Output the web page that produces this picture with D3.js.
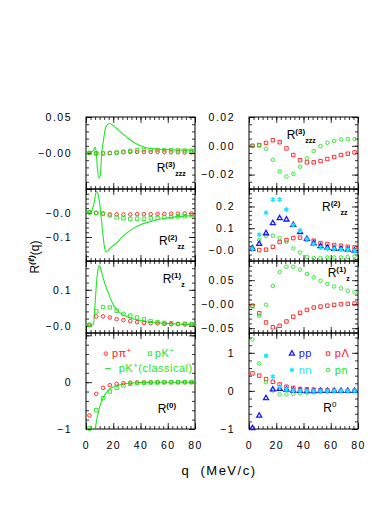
<!DOCTYPE html>
<html>
<head>
<meta charset="utf-8">
<script src="https://cdn.jsdelivr.net/npm/d3@7"></script>
<style>
body { margin: 0; background: #fff; }
text { font-family: "Liberation Sans", Arial, sans-serif; }
</style>
</head>
<body>
<svg id="chart"></svg>
<script>
var W = 390, H = 505;
var RED = "#ff1a1a", GREEN = "#22e622", BLUE = "#1a1aff", CYAN = "#19e6ff";

// q values of the computed points (MeV/c)
var qPts = [2.5, 7.5, 12.5, 17.5, 22.5, 27.5, 32.5, 37.5, 42.5, 47.5, 52.5, 57.5, 62.5, 67.5, 72.5, 77.5];

// left column: p pi+ (circles), p K+ (squares), p K+ classical (line)
var piR3 = [0, -0.0005, -0.0005, 0, 0.0005, 0.001, 0.0015, 0.0015, 0.0015, 0.0015, 0.0015, 0.0012, 0.001, 0.001, 0.0008, 0.0006];
var kR3 = [0, -0.0005, -0.0005, 0, 0.0005, 0.0018, 0.003, 0.0038, 0.0042, 0.0042, 0.0042, 0.004, 0.0038, 0.0036, 0.0034, 0.0032];
var clsR3q = [0, 3, 5.4, 6.6, 7.5, 8.3, 9.5, 10.5, 11.5, 13, 14, 15.5, 17.6, 20, 22.5, 26, 30, 35, 40, 45, 50, 57, 64, 72, 80];
var clsR3v = [0, 0.001, 0.0033, 0.008, 0.002, -0.02, -0.035, -0.03, -0.0014, 0.02, 0.032, 0.039, 0.041, 0.038, 0.034, 0.028, 0.022, 0.015, 0.010, 0.007, 0.0057, 0.0048, 0.0042, 0.004, 0.004];

var piR2 = [0.003, 0, -0.002, -0.006, -0.006, -0.006, -0.006, -0.005, -0.005, -0.005, -0.004, -0.004, -0.003, -0.003, -0.002, -0.002];
var kR2 = [0.003, 0, -0.004, -0.010, -0.018, -0.022, -0.025, -0.024, -0.024, -0.022, -0.021, -0.018, -0.017, -0.014, -0.013, -0.010];
var clsR2q = [0, 3.4, 5.4, 7.8, 9.5, 10.3, 11.3, 12.3, 13.5, 14.7, 16, 18, 20, 22.5, 26, 30, 35, 40, 45, 50, 57, 64, 72, 80];
var clsR2v = [0, 0.004, 0.028, 0.09, 0.06, 0.028, -0.03, -0.083, -0.14, -0.1625, -0.158, -0.145, -0.135, -0.125, -0.103, -0.083, -0.063, -0.049, -0.039, -0.031, -0.023, -0.017, -0.013, -0.011];

var piR1 = [0.002, 0.026, 0.026, 0.023, 0.0185, 0.016, 0.013, 0.010, 0.008, 0.007, 0.0065, 0.0056, 0.0046, 0.0046, 0.0037, 0.0037];
var kR1 = [0.003, 0.04, 0.052, 0.051, 0.042, 0.033, 0.028, 0.023, 0.0185, 0.013, 0.010, 0.008, 0.007, 0.0056, 0.0056, 0.0046];
var clsR1q = [0, 3, 5.4, 6.6, 7.8, 9, 9.8, 11, 12.7, 14.5, 16.4, 19, 22.5, 26, 29.9, 35, 39.6, 45, 49.4, 57, 64, 72, 80];
var clsR1v = [0, 0.002, 0.003, 0.058, 0.123, 0.16, 0.168, 0.155, 0.132, 0.11, 0.091, 0.066, 0.044, 0.033, 0.026, 0.019, 0.015, 0.011, 0.009, 0.007, 0.0056, 0.004, 0.003];

var piR0 = [-0.71, -0.25, -0.12, -0.064, -0.035, -0.02, -0.01, -0.006, -0.004, -0.003, -0.002, -0.002, -0.001, -0.001, -0.001, 0];
var kR0 = [-0.99, -0.6, -0.34, -0.2, -0.12, -0.07, -0.035, -0.02, -0.012, -0.008, -0.005, -0.003, -0.002, -0.001, -0.001, 0];
var clsR0q = [5, 6.6, 8.3, 10.3, 12.7, 15.2, 18.8, 22, 24.9, 28, 32.3, 36, 39.6, 45, 50, 60, 70, 80];
var clsR0v = [-1.1, -1.0, -0.745, -0.5, -0.32, -0.21, -0.12, -0.08, -0.057, -0.035, -0.021, -0.012, -0.007, -0.004, -0.002, -0.001, 0, 0];

// right column: p Lambda (squares), p n (circles), p p (triangles), n n (stars)
var plR3 = [0, 0.0005, 0.002, 0.0039, 0.0025, -0.0018, -0.0064, -0.010, -0.0115, -0.0115, -0.0106, -0.0092, -0.0078, -0.0064, -0.0055, -0.0046];
var pnR3 = [0, 0.0002, -0.0021, -0.0097, -0.0179, -0.0214, -0.0195, -0.0145, -0.0087, -0.0037, -0.0002, 0.0021, 0.0034, 0.0044, 0.0046, 0.0046];

var plR2 = [0.005, 0, 0.002, 0.015, 0.037, 0.046, 0.055, 0.057, 0.049, 0.043, 0.032, 0.028, 0.023, 0.020, 0.015, 0.012];
var pnR2 = [0.008, 0.046, 0.066, 0.066, 0.055, 0.038, 0.008, -0.011, -0.031, -0.037, -0.037, -0.034, -0.034, -0.034, -0.031, -0.028];
var ppR2 = [0.008, 0.028, 0.077, 0.123, 0.146, 0.140, 0.115, 0.082, 0.051, 0.031, 0.018, 0.011, 0.006, 0.005, 0.002, -0.003];
var nnR2 = [0.006, 0.071, 0.171, 0.232, 0.232, 0.186, 0.115, 0.089, 0.051, 0.028, 0.012, 0.005, 0.005, 0.002, 0.002, -0.003];

var plR1 = [-0.003, -0.019, -0.038, -0.048, -0.045, -0.036, -0.026, -0.018, -0.012, -0.007, -0.005, -0.003, -0.0014, 0, 0.0007, 0.0014];
var pnR1 = [-0.005, -0.024, -0.001, 0.038, 0.067, 0.078, 0.078, 0.072, 0.063, 0.056, 0.049, 0.042, 0.037, 0.033, 0.028, 0.025];

var plR0 = [0.46, 0.40, 0.31, 0.24, 0.17, 0.11, 0.08, 0.05, 0.04, 0.03, 0.02, 0.01, 0.005, 0, 0, 0];
var pnR0 = [1.35, 0.72, 0.23, 0.01, -0.09, -0.09, -0.08, -0.06, -0.045, -0.035, -0.025, -0.018, -0.01, -0.008, -0.005, 0];
var ppR0 = [-0.98, -0.65, -0.19, 0.04, 0.05, 0.03, 0.01, 0, -0.005, -0.005, -0.003, -0.002, -0.001, 0, 0, 0];
var nnR0 = [4.0, 2.2, 0.92, 0.375, 0.11, 0.04, 0.01, 0, 0, 0, 0, 0, 0, 0, 0, 0];

// axis tick labels
var xTicks = [0, 20, 40, 60, 80];
var yTickL3 = [0.05, 0], yTextL3 = ["0.05", "\u22120.00"];
var yTickL2 = [0, -0.1], yTextL2 = ["\u22120.0", "\u22120.1"];
var yTickL1 = [0.1, 0], yTextL1 = ["0.1", "\u22120.0"];
var yTickL0 = [0, -1], yTextL0 = ["0", "\u22121"];
var yTickR3 = [0.02, 0, -0.02], yTextR3 = ["0.02", "0.00", "\u22120.02"];
var yTickR2 = [0.2, 0.1, 0], yTextR2 = ["0.2", "0.1", "\u22120.0"];
var yTickR1 = [0.05, 0, -0.05], yTextR1 = ["0.05", "\u22120.00", "\u22120.05"];
var yTickR0 = [1, 0, -1], yTextR0 = ["1", "0", "\u22121"];

var colX = [86, 249], colW = 109;
var rowY = [117, 189, 261, 333], rowH = [72, 72, 72, 96];

var panels = [
  {col: 0, row: 0, domain: [-0.05, 0.05], major: 0.05, minor: 0.01, ticks: yTickL3, texts: yTextL3,
   lab: ["R", "(3)", "zzz", 70.7, 54.7],
   series: [{q: clsR3q, v: clsR3v, kind: "line", color: GREEN},
            {q: qPts, v: piR3, kind: "circle", color: RED},
            {q: qPts, v: kR3, kind: "square", color: GREEN}]},
  {col: 0, row: 1, domain: [-0.2, 0.1], major: 0.1, minor: 0.02, ticks: yTickL2, texts: yTextL2,
   lab: ["R", "(2)", "zz", 73, 56],
   series: [{q: clsR2q, v: clsR2v, kind: "line", color: GREEN},
            {q: qPts, v: piR2, kind: "circle", color: RED},
            {q: qPts, v: kR2, kind: "square", color: GREEN}]},
  {col: 0, row: 2, domain: [-0.02, 0.18], major: 0.1, minor: 0.02, ticks: yTickL1, texts: yTextL1,
   lab: ["R", "(1)", "z", 76.7, 22.3],
   series: [{q: clsR1q, v: clsR1v, kind: "line", color: GREEN},
            {q: qPts, v: piR1, kind: "circle", color: RED},
            {q: qPts, v: kR1, kind: "square", color: GREEN}]},
  {col: 0, row: 3, domain: [-1, 1.05], major: 1, minor: 0.2, ticks: yTickL0, texts: yTextL0,
   lab: ["R", "(0)", "", 71.7, 80.3],
   series: [{q: clsR0q, v: clsR0v, kind: "line", color: GREEN},
            {q: qPts, v: piR0, kind: "circle", color: RED},
            {q: qPts, v: kR0, kind: "square", color: GREEN}]},
  {col: 1, row: 0, domain: [-0.03, 0.02], major: 0.02, minor: 0.005, ticks: yTickR3, texts: yTextR3,
   lab: ["R", "(3)", "zzz", 37.7, 22],
   series: [{q: qPts, v: plR3, kind: "square", color: RED},
            {q: qPts, v: pnR3, kind: "circle", color: GREEN}]},
  {col: 1, row: 1, domain: [-0.05, 0.28], major: 0.1, minor: 0.02, ticks: yTickR2, texts: yTextR2,
   lab: ["R", "(2)", "zz", 73, 21.7],
   series: [{q: qPts, v: plR2, kind: "square", color: RED},
            {q: qPts, v: pnR2, kind: "circle", color: GREEN},
            {q: qPts, v: ppR2, kind: "triangle", color: BLUE},
            {q: qPts, v: nnR2, kind: "star", color: CYAN}]},
  {col: 1, row: 2, domain: [-0.06, 0.09], major: 0.05, minor: 0.01, ticks: yTickR1, texts: yTextR1,
   lab: ["R", "(1)", "z", 78.7, 15.7],
   series: [{q: qPts, v: plR1, kind: "square", color: RED},
            {q: qPts, v: pnR1, kind: "circle", color: GREEN}]},
  {col: 1, row: 3, domain: [-1, 1.52], major: 1, minor: 0.2, ticks: yTickR0, texts: yTextR0,
   lab: ["R", "0", "", 74.3, 78.7], plainSup: true,
   series: [{q: qPts, v: plR0, kind: "square", color: RED},
            {q: qPts, v: pnR0, kind: "circle", color: GREEN},
            {q: qPts, v: ppR0, kind: "triangle", color: BLUE},
            {q: qPts, v: nnR0, kind: "star", color: CYAN}]}
];

var svg = d3.select("#chart").attr("width", W).attr("height", H);
var defs = svg.append("defs");

function steps(d0, d1, s) {
  var a = [];
  for (var k = Math.ceil(d0 / s - 1e-6); k * s <= d1 + 1e-9; k++) a.push(+(k * s).toFixed(6));
  return a;
}

function symbolFor(kind) {
  if (kind == "circle") return d3.symbol(d3.symbolCircle, 10);
  if (kind == "square") return d3.symbol(d3.symbolSquare, 12);
  if (kind == "triangle") return d3.symbol(d3.symbolTriangle, 11);
  return d3.symbol(d3.symbolAsterisk, 16);
}

function strokeFor(kind) {
  if (kind == "star") return 1.4;
  if (kind == "triangle") return 1.3;
  return 0.9;
}

function styleText(sel, size) {
  sel.selectAll("text")
    .attr("fill", "#000")
    .style("font-family", "\"Liberation Sans\", Arial, sans-serif")
    .style("font-size", size + "px")
    .style("letter-spacing", "1.5px");
}

function noDomain(s) { s.select(".domain").remove(); }

panels.forEach(function(p, i) {
  var x0 = colX[p.col], x1 = x0 + colW;
  var y0 = rowY[p.row], y1 = y0 + rowH[p.row];
  var x = d3.scaleLinear().domain([0, 80]).range([x0, x1]);
  var y = d3.scaleLinear().domain(p.domain).range([y1, y0]);
  var g = svg.append("g");

  defs.append("clipPath").attr("id", "clip" + i)
    .append("rect").attr("x", x0).attr("y", y0).attr("width", colW).attr("height", rowH[p.row]);

  // ticks on all four sides, pointing inward
  var yMaj = steps(p.domain[0], p.domain[1], p.major);
  var yMin = steps(p.domain[0], p.domain[1], p.minor);
  var xMaj = steps(0, 80, 20);
  var xMin = steps(0, 80, 20 / 6);
  var sides = [[d3.axisLeft(y), x0, 0, yMaj, yMin], [d3.axisRight(y), x1, 0, yMaj, yMin],
               [d3.axisTop(x), 0, y0, xMaj, xMin], [d3.axisBottom(x), 0, y1, xMaj, xMin]];
  sides.forEach(function(a) {
    g.append("g").attr("transform", "translate(" + a[1] + "," + a[2] + ")")
      .call(a[0].tickValues(a[4]).tickSize(-3).tickFormat(""))
      .call(noDomain);
    g.append("g").attr("transform", "translate(" + a[1] + "," + a[2] + ")")
      .call(a[0].tickValues(a[3]).tickSize(-6).tickFormat(""))
      .call(noDomain);
  });
  g.selectAll(".tick line").attr("stroke", "#000").attr("stroke-width", 0.8);

  // y labels
  var yl = g.append("g").attr("transform", "translate(" + x0 + ",0)")
    .call(d3.axisLeft(y).tickValues(p.ticks).tickSize(0).tickPadding(14)
      .tickFormat(function(d, k) { return p.texts[k]; }))
    .call(noDomain);
  styleText(yl, 10.5);

  // x labels on the bottom row
  if (p.row == 3) {
    var xl = g.append("g").attr("transform", "translate(0," + y1 + ")")
      .call(d3.axisBottom(x).tickValues(xTicks).tickSize(0).tickPadding(13))
      .call(noDomain);
    styleText(xl, 10.5);
  }

  g.append("rect").attr("x", x0).attr("y", y0).attr("width", colW).attr("height", rowH[p.row])
    .attr("fill", "none").attr("stroke", "#000").attr("stroke-width", 1);

  p.series.forEach(function(s) {
    var pts = s.q.map(function(q, k) { return [q, s.v[k]]; });
    if (s.kind == "line") {
      g.append("path")
        .attr("clip-path", "url(#clip" + i + ")")
        .attr("d", d3.line().x(function(d) { return x(d[0]); }).y(function(d) { return y(d[1]); })
          .curve(d3.curveMonotoneX)(pts))
        .attr("fill", "none").attr("stroke", s.color).attr("stroke-width", 1.1);
    } else {
      var span = p.domain[1] - p.domain[0];
      g.selectAll(null)
        .data(pts.filter(function(d) { return d[1] >= p.domain[0] - 0.02 * span && d[1] <= p.domain[1]; }))
        .enter().append("path")
        .attr("transform", function(d) { return "translate(" + x(d[0]) + "," + y(d[1]) + ")"; })
        .attr("d", symbolFor(s.kind))
        .attr("fill", "none").attr("stroke", s.color)
        .attr("stroke-width", strokeFor(s.kind));
    }
  });

  // panel name
  var t = g.append("text").attr("x", x0 + p.lab[3]).attr("y", y0 + p.lab[4])
    .style("font-size", "12px").attr("fill", "#000");
  t.append("tspan").text(p.lab[0]);
  t.append("tspan").attr("dy", -5).style("font-size", "8px")
    .style("font-weight", p.plainSup ? "normal" : "bold").text(p.lab[1]);
  if (p.lab[2]) t.append("tspan").attr("dy", 9).style("font-size", "7px").style("font-weight", "bold").text(p.lab[2]);
});

// legends
var lx = d3.scaleLinear().domain([0, 80]).range([colX[0], colX[0] + colW]);
var ly = d3.scaleLinear().domain([-1, 1.05]).range([rowY[3] + rowH[3], rowY[3]]);
var leg = svg.append("g").style("font-size", "11px").style("letter-spacing", "0.5px");
leg.append("path").attr("transform", "translate(" + lx(14.5) + "," + ly(0.61) + ")")
  .attr("d", symbolFor("circle")).attr("fill", "none").attr("stroke", RED).attr("stroke-width", 0.9);
var t1 = leg.append("text").attr("x", lx(19)).attr("y", ly(0.53)).attr("fill", RED);
t1.append("tspan").text("p\u03c0");
t1.append("tspan").attr("dy", -4).style("font-size", "8px").text("+");
leg.append("path").attr("transform", "translate(" + lx(47) + "," + ly(0.61) + ")")
  .attr("d", symbolFor("square")).attr("fill", "none").attr("stroke", GREEN).attr("stroke-width", 0.9);
var t2 = leg.append("text").attr("x", lx(50.5)).attr("y", ly(0.53)).attr("fill", GREEN);
t2.append("tspan").text("pK");
t2.append("tspan").attr("dy", -4).style("font-size", "8px").text("+");
leg.append("line").attr("x1", lx(14)).attr("x2", lx(18)).attr("y1", ly(0.29)).attr("y2", ly(0.29))
  .attr("stroke", GREEN).attr("stroke-width", 1.1);
var t3 = leg.append("text").attr("x", lx(24)).attr("y", ly(0.21)).attr("fill", GREEN);
t3.append("tspan").text("pK");
t3.append("tspan").attr("dy", -4).style("font-size", "8px").text("+");
t3.append("tspan").attr("dy", 4).text("(classical)");

var rx = d3.scaleLinear().domain([0, 80]).range([colX[1], colX[1] + colW]);
var ry = d3.scaleLinear().domain([-1, 1.52]).range([rowY[3] + rowH[3], rowY[3]]);
var legR = [["triangle", BLUE, "pp", 31.5, 0.98], ["square", RED, "p\u039b", 58, 0.98],
            ["star", CYAN, "nn", 31.5, 0.55], ["circle", GREEN, "pn", 58, 0.55]];
legR.forEach(function(l) {
  leg.append("path").attr("transform", "translate(" + rx(l[3]) + "," + ry(l[4]) + ")")
    .attr("d", symbolFor(l[0])).attr("fill", "none").attr("stroke", l[1])
    .attr("stroke-width", strokeFor(l[0]));
  leg.append("text").attr("x", rx(l[3] + 5)).attr("y", ry(l[4] - 0.1)).attr("fill", l[1]).text(l[2]);
});

// axis titles
svg.append("text").attr("x", 219).attr("y", 475).attr("text-anchor", "middle")
  .style("font-size", "13px").style("letter-spacing", "1.5px").attr("fill", "#000")
  .attr("xml:space", "preserve").text("q  (MeV/c)");
var yt = svg.append("text").attr("transform", "translate(39,257) rotate(-90)")
  .attr("text-anchor", "middle").style("font-size", "12px").attr("fill", "#000");
yt.append("tspan").text("R");
yt.append("tspan").attr("dy", -5).style("font-size", "8px").style("font-weight", "bold").style("font-style", "italic").text("(\u2113)");
yt.append("tspan").attr("dy", 5).text("(q)");
</script>
</body>
</html>
